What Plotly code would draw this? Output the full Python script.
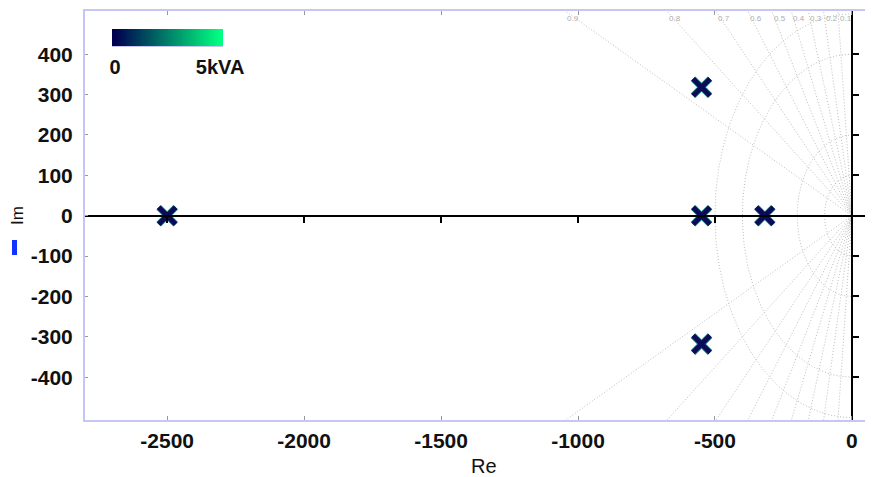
import numpy as np
import plotly.graph_objects as go

# ---- data ----
pole_re = [-2500, -549, -549, -549, -318]
pole_im = [0, 318, 0, -318, 0]

zeta_vals = [0.1, 0.2, 0.3, 0.4, 0.5, 0.6, 0.7, 0.8, 0.9]
zeta_labels = ["0.1", "0.2", "0.3", "0.4", "0.5", "0.6", "0.7", "0.8", "0.9"]
wn_vals = [100, 200, 400, 500]

x_ticks = [-2500, -2000, -1500, -1000, -500, 0]
x_ticklabels = ["-2500", "-2000", "-1500", "-1000", "-500", "0"]
y_ticks = [-400, -300, -200, -100, 0, 100, 200, 300, 400]
y_ticklabels = ["-400", "-300", "-200", "-100", "0", "100", "200", "300", "400"]

cbar_vals = [0, 5]
cbar_labels = ["0", "5kVA"]
cbar_colors = [[0, "#000050"], [1, "#00ff80"]]

x_range = [-2800, 77]
y_range = [-506, 507]

# page body has an 8px margin, so the figure is drawn 8px in from the window corner
OFF = 8
W, H = 873 - OFF, 477 - OFF
ML, MR, MT, MB = 85 - OFF, 0, 11 - OFF, 57
pw = W - ML - MR
ph = H - MT - MB


def px_x(px):  # reference-window pixel -> paper fraction
    return (px - OFF - ML) / pw


def px_y(py):
    return 1 - (py - OFF - MT) / ph


FONT = "Liberation Sans"
GRID = "#bdbdbd"
FRAME = "#c6c6f6"
NAVY = "#0b0b5c"

fig = go.Figure()

# damping lines (dotted)
R = 4000
for z in zeta_vals:
    s = np.sqrt(1 - z * z)
    fig.add_trace(go.Scatter(x=[-z * R, 0, -z * R], y=[s * R, 0, -s * R], mode="lines",
                             line=dict(color=GRID, width=1, dash="1px,2px"),
                             hoverinfo="skip", showlegend=False))

# natural frequency arcs
th = np.linspace(np.pi / 2, 3 * np.pi / 2, 181)
for wn in wn_vals:
    fig.add_trace(go.Scatter(x=wn * np.cos(th), y=wn * np.sin(th), mode="lines",
                             line=dict(color=GRID, width=1, dash="1px,2px"),
                             hoverinfo="skip", showlegend=False))

# poles
fig.add_trace(go.Scatter(x=pole_re, y=pole_im, mode="markers",
                         marker=dict(symbol="x-thin", size=17, color=NAVY,
                                     line=dict(color="#1d8a7c", width=6.5)),
                         hoverinfo="skip", showlegend=False))
fig.add_trace(go.Scatter(x=pole_re, y=pole_im, mode="markers",
                         marker=dict(symbol="x-thin", size=17, color=NAVY,
                                     line=dict(color=NAVY, width=5)),
                         hoverinfo="skip", showlegend=False))

# colour scale bar (heatmap on its own small axes)
cb_lo, cb_hi = -0.14, 5.14
cb_x = np.linspace(cb_lo, cb_hi, 120)
fig.add_trace(go.Heatmap(x=cb_x, y=[0], z=[cb_x], xaxis="x3", yaxis="y3",
                         zmin=cbar_vals[0], zmax=cbar_vals[1], colorscale=cbar_colors,
                         showscale=False, hoverinfo="skip"))

annotations = []
# damping labels along the top edge
for z, lab in zip(zeta_vals, zeta_labels):
    xt = -y_range[1] * z / np.sqrt(1 - z * z)
    annotations.append(dict(x=xt, y=1, xref="x", yref="paper", text=lab, showarrow=False,
                            xanchor="left", yanchor="top", yshift=-1,
                            font=dict(family=FONT, size=8, color="#adadad")))
# axis titles
annotations.append(dict(x=px_x(484), y=px_y(466), xref="paper", yref="paper", text="Re",
                        showarrow=False, xanchor="center", yanchor="middle",
                        font=dict(family=FONT, size=20, color="#111")))
annotations.append(dict(x=px_x(17), y=px_y(216), xref="paper", yref="paper", text="Im",
                        showarrow=False, xanchor="center", yanchor="middle", textangle=-90,
                        font=dict(family=FONT, size=17, color="#111")))

shapes = [dict(type="rect", xref="paper", yref="paper",
               x0=px_x(12), x1=px_x(17), y0=px_y(255), y1=px_y(240),
               fillcolor="#1033ff", line=dict(width=0))]

tickfont = dict(family=FONT, size=21, color="#111", weight="bold")

fig.update_layout(
    width=W, height=H,
    margin=dict(l=ML, r=MR, t=MT, b=MB, pad=0, autoexpand=False),
    paper_bgcolor="white", plot_bgcolor="white",
    showlegend=False,
    xaxis=dict(range=x_range, tickvals=x_ticks, ticktext=x_ticklabels, tickfont=tickfont,
               showgrid=False, zeroline=False, showline=True, linecolor=FRAME, linewidth=2,
               mirror="ticks", ticks="inside", ticklen=4, tickcolor="#999", tickwidth=1,
               ticklabelstandoff=1),
    yaxis=dict(range=y_range, tickvals=y_ticks, ticktext=y_ticklabels, tickfont=tickfont,
               showgrid=False, zeroline=False, showline=True, linecolor=FRAME, linewidth=2,
               mirror="ticks", ticks="inside", ticklen=3, tickcolor="#999", tickwidth=1,
               ticklabelstandoff=6),
    xaxis2=dict(range=x_range, overlaying="x", anchor="free",
                position=(0 - y_range[0]) / (y_range[1] - y_range[0]),
                tickvals=x_ticks, showticklabels=False, showgrid=False, zeroline=False,
                showline=True, linecolor="black", linewidth=2,
                ticks="outside", ticklen=6, tickwidth=2, tickcolor="black"),
    yaxis2=dict(range=y_range, overlaying="y", anchor="free", side="right",
                position=(0 - x_range[0]) / (x_range[1] - x_range[0]),
                tickvals=y_ticks, showticklabels=False, showgrid=False, zeroline=False,
                showline=True, linecolor="black", linewidth=2,
                ticks="outside", ticklen=6, tickwidth=2, tickcolor="black"),
    xaxis3=dict(domain=[px_x(112), px_x(223)], anchor="y3", range=[cb_lo, cb_hi],
                tickvals=cbar_vals, ticktext=cbar_labels, ticks="",
                tickfont=dict(family=FONT, size=20, color="#111", weight="bold"),
                ticklabelstandoff=3, showgrid=False, zeroline=False,
                showline=True, linecolor=FRAME, linewidth=1, mirror=False, fixedrange=True),
    yaxis3=dict(domain=[px_y(46), px_y(29)], anchor="x3", range=[-0.5, 0.5],
                showticklabels=False, ticks="", showgrid=False, zeroline=False,
                showline=False, fixedrange=True),
    annotations=annotations,
    shapes=shapes,
)

# overlay subplot carrying the black zero axes
fig.add_trace(go.Scatter(x=[None], y=[None], xaxis="x2", yaxis="y2", mode="markers",
                         hoverinfo="skip", showlegend=False))

fig.write_html("out.html")
